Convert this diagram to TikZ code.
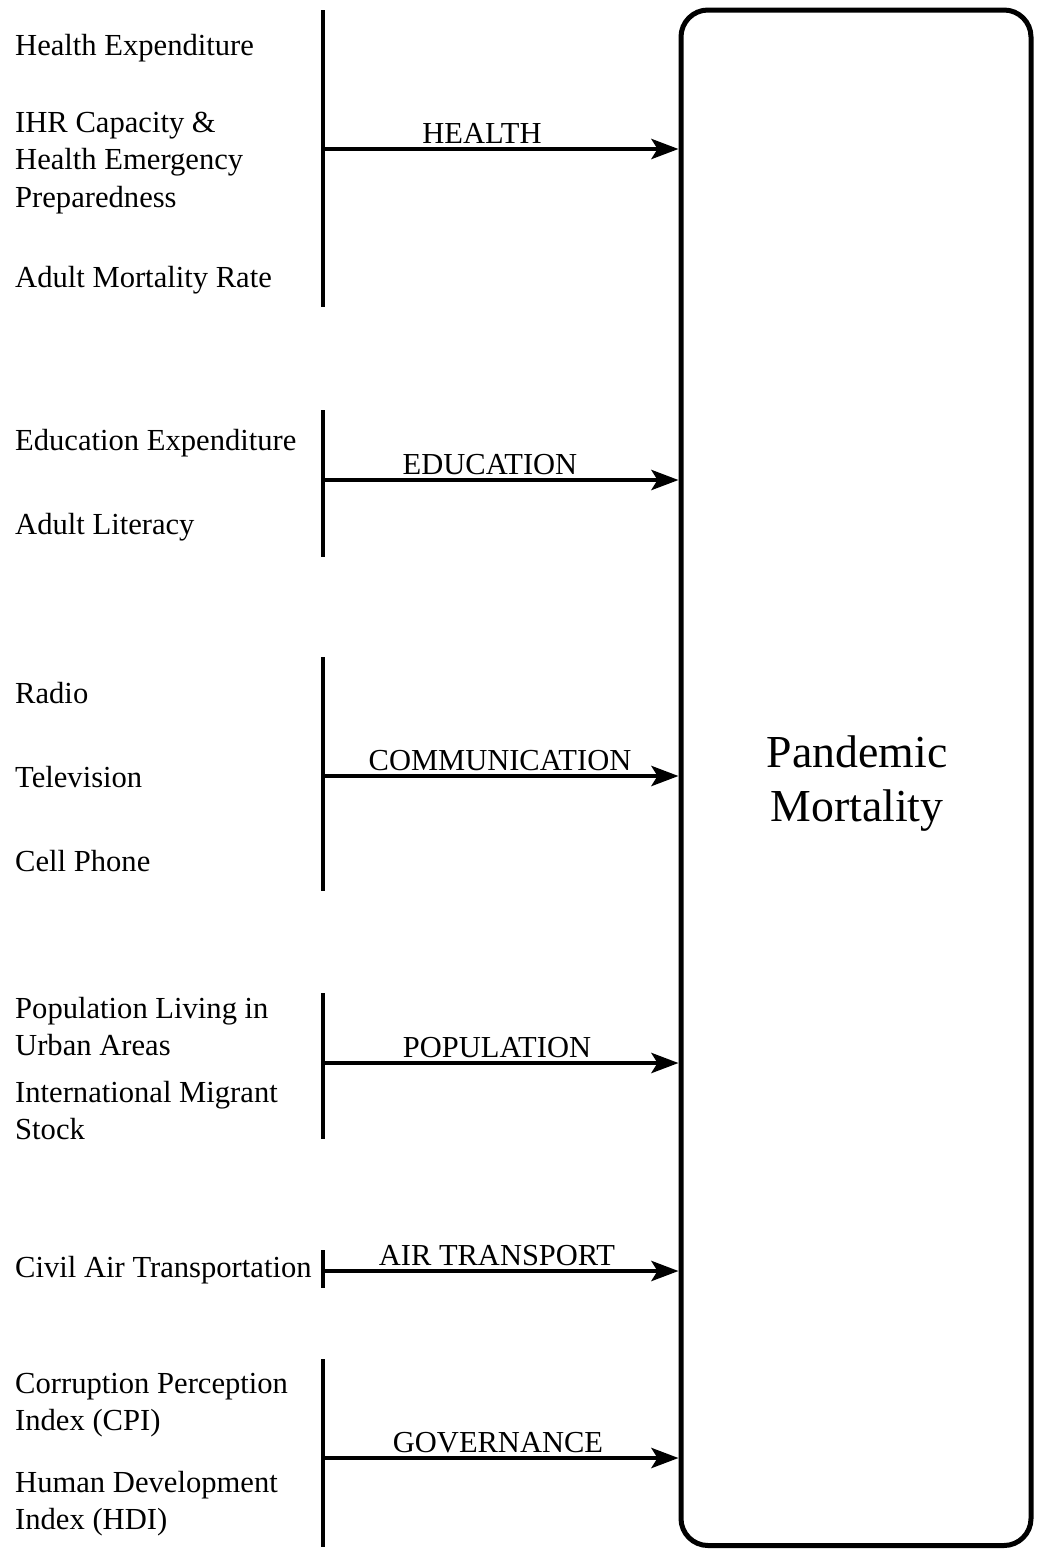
\documentclass[tikz,border=0pt]{standalone}
\usepackage{fontspec}
\setmainfont{Liberation Serif}
\usetikzlibrary{arrows.meta}
\begin{document}
\begin{tikzpicture}[x=1pt,y=-1pt,
  item/.style={anchor=base west, align=left, inner sep=0pt,
    font=\fontsize{30.6}{37.5}\selectfont},
  cat/.style={anchor=base, inner sep=0pt, font=\fontsize{30.5}{36}\selectfont},
  bar/.style={line width=4.5pt},
  feed/.style={line width=4.5pt, -{Stealth[length=27pt,width=20pt,inset=6pt]}},
  outcome/.style={draw, line width=5pt, rounded corners=27pt,
    minimum width=350pt, minimum height=1535.5pt, inner sep=0pt},
  outtext/.style={align=center, inner sep=0pt, font=\fontsize{45.8}{54}\selectfont}]
\useasboundingbox (0,0) rectangle (1041,1558);

% outcome box and its title (multi-line nodes sit on their last baseline)
\node[outcome] (pm) at (856,777.75) {};
\node[outtext] (pmt) at (857,784) {Pandemic\\Mortality};

% HEALTH
\node[item] (he) at (15,55) {Health Expenditure};
\node[item] (ihr) at (15,207) {IHR Capacity \&\\Health Emergency\\Preparedness};
\node[item] (amr) at (15,287) {Adult Mortality Rate};
\coordinate (hT) at (323,10);
\coordinate (hB) at (323,307);
\coordinate (hA) at (323,149);
\draw[bar] (hT) -- (hB);
\draw[feed] (hA) -- (hA -| pm.west);
\node[cat] (lh) at (482,143) {HEALTH};

% EDUCATION
\node[item] (ee) at (15,450) {Education Expenditure};
\node[item] (al) at (15,534) {Adult Literacy};
\coordinate (eT) at (323,410);
\coordinate (eB) at (323,557);
\coordinate (eA) at (323,480);
\draw[bar] (eT) -- (eB);
\draw[feed] (eA) -- (eA -| pm.west);
\node[cat] (le) at (490,474) {EDUCATION};

% COMMUNICATION
\node[item] (ra) at (15,703) {Radio};
\node[item] (tv) at (15,787) {Television};
\node[item] (cp) at (15,871) {Cell Phone};
\coordinate (cT) at (323,657);
\coordinate (cB) at (323,891);
\coordinate (cA) at (323,776);
\draw[bar] (cT) -- (cB);
\draw[feed] (cA) -- (cA -| pm.west);
\node[cat] (lc) at (500,770) {COMMUNICATION};

% POPULATION
\node[item] (pu) at (15,1055.5) {Population Living in\\Urban Areas};
\node[item] (im) at (15,1139.5) {International Migrant\\Stock};
\coordinate (pT) at (323,993);
\coordinate (pB) at (323,1139);
\coordinate (pA) at (323,1063);
\draw[bar] (pT) -- (pB);
\draw[feed] (pA) -- (pA -| pm.west);
\node[cat] (lp) at (497,1057) {POPULATION};

% AIR TRANSPORT
\node[item] (ca) at (15,1277) {Civil Air Transportation};
\coordinate (aT) at (323,1250);
\coordinate (aB) at (323,1288);
\coordinate (aA) at (323,1271);
\draw[bar] (aT) -- (aB);
\draw[feed] (aA) -- (aA -| pm.west);
\node[cat] (la) at (497,1265) {AIR TRANSPORT};

% GOVERNANCE
\node[item] (cpi) at (15,1430.5) {Corruption Perception\\Index (CPI)};
\node[item] (hdi) at (15,1529.5) {Human Development\\Index (HDI)};
\coordinate (gT) at (323,1359);
\coordinate (gB) at (323,1547);
\coordinate (gA) at (323,1458);
\draw[bar] (gT) -- (gB);
\draw[feed] (gA) -- (gA -| pm.west);
\node[cat] (lg) at (498,1452) {GOVERNANCE};
\end{tikzpicture}
\end{document}
